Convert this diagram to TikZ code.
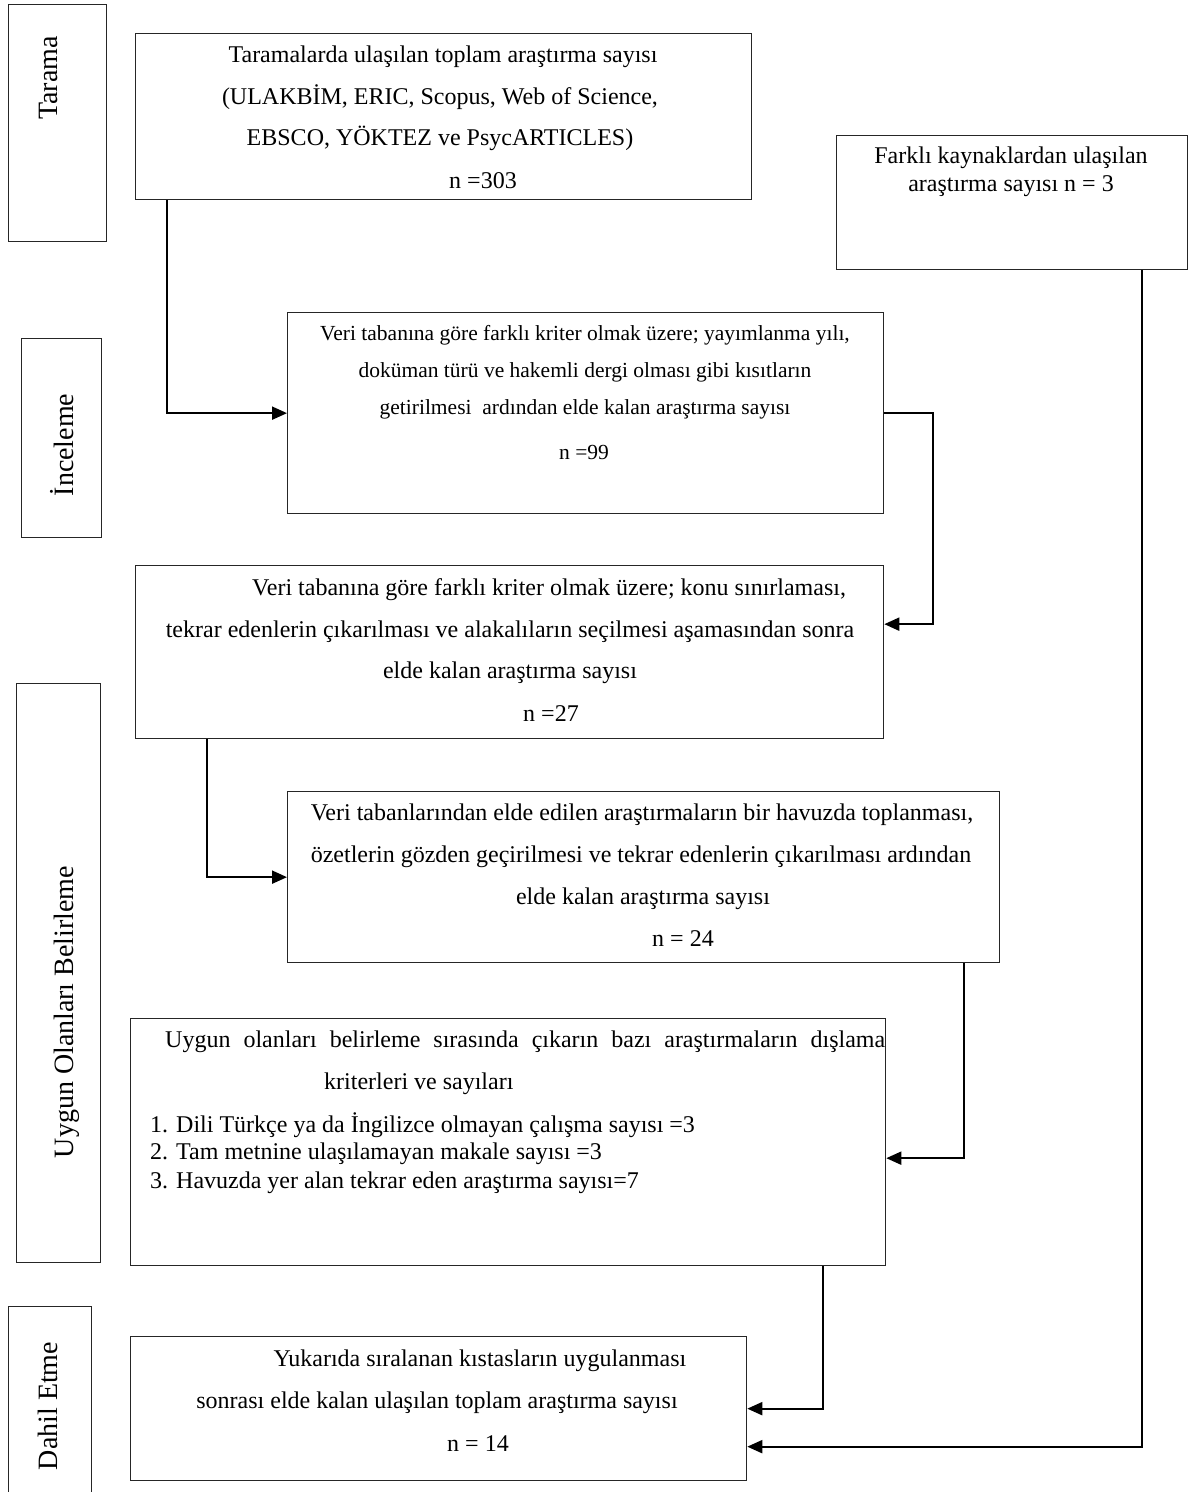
\documentclass[tikz,border=0pt]{standalone}
\usepackage{fontspec}
\setmainfont{Liberation Serif}
\usetikzlibrary{arrows.meta,calc}
\begin{document}
\begin{tikzpicture}[x=1pt,y=-1pt,
 box/.style={draw=black!85, line width=1.3pt, rectangle, anchor=north west, inner sep=0pt},
 conn/.style={line width=2pt, -{Triangle[length=15pt,width=13pt]}},
 txt/.style={anchor=base, inner sep=0pt, font=\fontsize{24}{28}\selectfont},
 txtl/.style={anchor=base west, inner sep=0pt, font=\fontsize{24}{28}\selectfont},
 small/.style={anchor=base, inner sep=0pt, font=\fontsize{21.5}{25}\selectfont},
 side/.style={rotate=90, inner sep=0pt, font=\fontsize{28}{32}\selectfont}]
\useasboundingbox (0,0) rectangle (1188,1492);

% side boxes
\node[box, minimum width=98pt, minimum height=237pt] (s1) at (8,4) {};
\node[box, minimum width=80pt, minimum height=199pt] (s2) at (21,338) {};
\node[box, minimum width=84pt, minimum height=579pt] (s3) at (16,683) {};
\node[box, minimum width=83pt, minimum height=200pt] (s4) at (8,1306) {};
\node[side] (l1) at (48,78) {Tarama};
\node[side] (l2) at (62,445) {İnceleme};
\node[side] (l3) at (67,1012) {Uygun Olanları Belirleme};
\node[side] (l4) at (48,1406) {Dahil Etme};

% main boxes
\node[box, minimum width=616pt, minimum height=166pt] (b1) at (135,33) {};
\node[box, minimum width=351pt, minimum height=134pt] (b2) at (836,135) {};
\node[box, minimum width=596pt, minimum height=201pt] (b3) at (287,312) {};
\node[box, minimum width=748pt, minimum height=173pt] (b4) at (135,565) {};
\node[box, minimum width=712pt, minimum height=171pt] (b5) at (287,791) {};
\node[box, minimum width=755pt, minimum height=247pt] (b6) at (130,1018) {};
\node[box, minimum width=616pt, minimum height=144pt] (b7) at (130,1336) {};

% texts b1
\node[txt] (t1a) at (443,62) {Taramalarda ulaşılan toplam araştırma sayısı};
\node[txt] (t1b) at (440,104) {(ULAKBİM, ERIC, Scopus, Web of Science,};
\node[txt] (t1c) at (440,145) {EBSCO, YÖKTEZ ve PsycARTICLES)};
\node[txt] (t1d) at (483,188) {n =303};
% b2
\node[txt] (t2a) at (1011,163) {Farklı kaynaklardan ulaşılan};
\node[txt] (t2b) at (1011,191) {araştırma sayısı n = 3};
% b3
\node[small] (t3a) at (585,340) {Veri tabanına göre farklı kriter olmak üzere; yayımlanma yılı,};
\node[small] (t3b) at (585,377) {doküman türü ve hakemli dergi olması gibi kısıtların};
\node[small] (t3c) at (585,414) {getirilmesi\ \ ardından elde kalan araştırma sayısı};
\node[small] (t3d) at (584,459) {n =99};
% b4
\node[txtl] (t4a) at (252,595) {Veri tabanına göre farklı kriter olmak üzere; konu sınırlaması,};
\node[txt] (t4b) at (510,637) {tekrar edenlerin çıkarılması ve alakalıların seçilmesi aşamasından sonra};
\node[txt] (t4c) at (510,678) {elde kalan araştırma sayısı};
\node[txt] (t4d) at (551,721) {n =27};
% b5
\node[txt] (t5a) at (642,820) {Veri tabanlarından elde edilen araştırmaların bir havuzda toplanması,};
\node[txt] (t5b) at (641,862) {özetlerin gözden geçirilmesi ve tekrar edenlerin çıkarılması ardından};
\node[txt] (t5c) at (643,904) {elde kalan araştırma sayısı};
\node[txt] (t5d) at (683,946) {n = 24};
% b6
\node[txtl] (t6a) at (165,1047) {\makebox[720pt][s]{Uygun olanları belirleme sırasında çıkarın bazı araştırmaların dışlama}};
\node[txtl] (t6b) at (324,1089) {kriterleri ve sayıları};
\node[txtl] (t6c) at (150,1132) {1. Dili Türkçe ya da İngilizce olmayan çalışma sayısı =3};
\node[txtl] (t6d) at (150,1159) {2. Tam metnine ulaşılamayan makale sayısı =3};
\node[txtl] (t6e) at (150,1188) {3. Havuzda yer alan tekrar eden araştırma sayısı=7};
% b7
\node[txt] (t7a) at (480,1366) {Yukarıda sıralanan kıstasların uygulanması};
\node[txt] (t7b) at (437,1408) {sonrası elde kalan ulaşılan toplam araştırma sayısı};
\node[txt] (t7c) at (478,1451) {n = 14};

% connectors
\draw[conn] ([xshift=32pt]b1.south west) |- (b3.west);
\draw[conn] (b3.east) -- ++(49,0) |- ([yshift=28pt]b4.east);
\draw[conn] ([xshift=72pt]b4.south west) |- (b5.west);
\draw[conn] ([xshift=-36pt]b5.south east) |- ([yshift=-16pt]b6.east);
\draw[conn] ([xshift=-63pt]b6.south east) |- (b7.east);
\draw[conn] ([xshift=-46pt]b2.south east) |- ([yshift=-38pt]b7.east);
\end{tikzpicture}
\end{document}
